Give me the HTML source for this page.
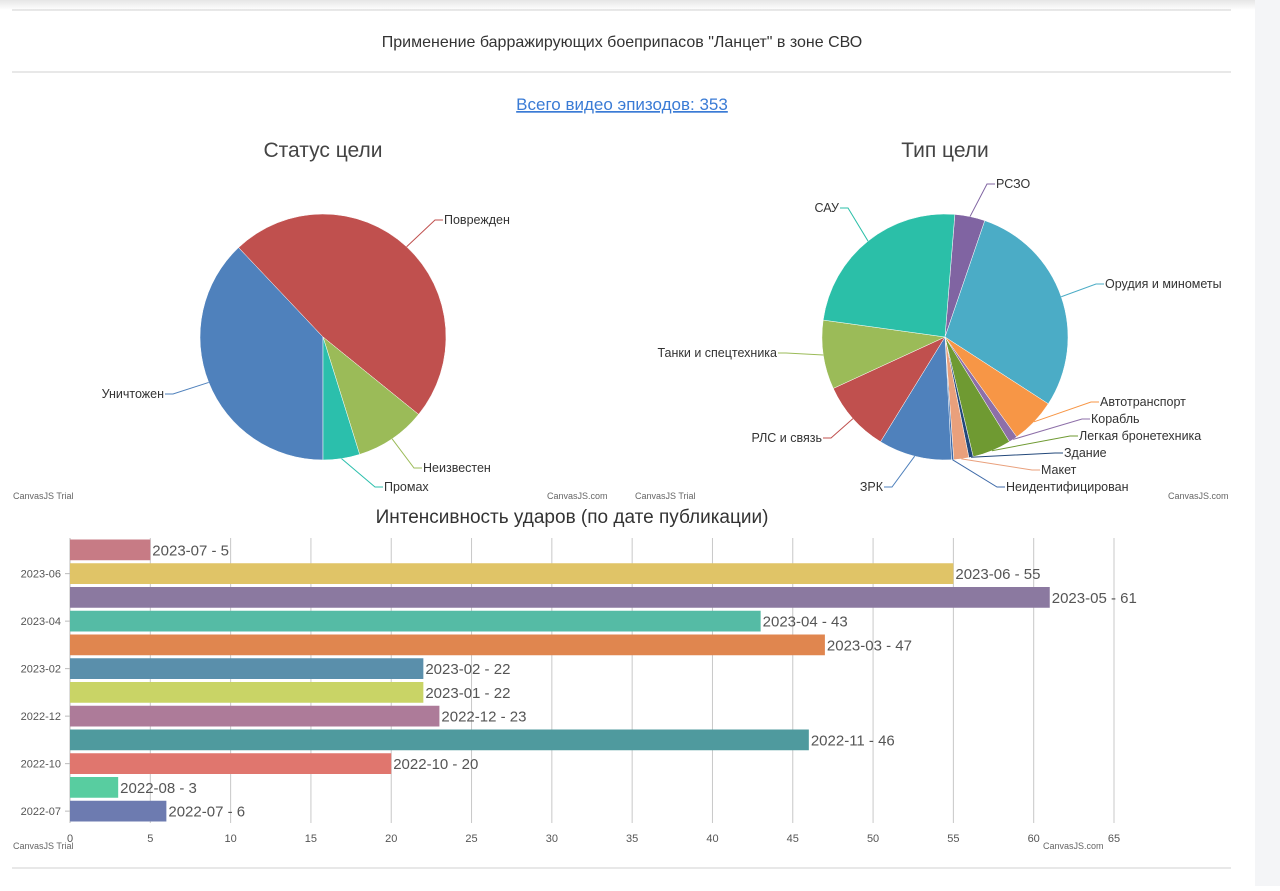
<!DOCTYPE html>
<html><head><meta charset="utf-8"><style>
body{margin:0;width:1280px;height:886px;background:#fff;overflow:hidden;font-family:"Liberation Sans Narrow","Liberation Sans","Noto Sans CJK SC",sans-serif;}
#wrap{position:relative;width:1280px;height:886px;}
</style></head><body>
<div id="wrap">
<svg id="s" width="1280" height="886" xmlns="http://www.w3.org/2000/svg">
<defs><linearGradient id="tg" x1="0" y1="0" x2="0" y2="1"><stop offset="0" stop-color="#e6e6e6"/><stop offset="1" stop-color="#fff"/></linearGradient></defs>
<rect x="0" y="0" width="1280" height="10" fill="url(#tg)"/>
<rect x="1255" y="0" width="25" height="886" fill="#f4f5f7"/>
<line x1="12" y1="10" x2="1231" y2="10" stroke="#d0d0d0"/>
<text x="622" y="47" text-anchor="middle" font-size="16" fill="#333">Применение барражирующих боеприпасов "Ланцет" в зоне СВО</text>
<line x1="12" y1="72" x2="1231" y2="72" stroke="#d0d0d0"/>
<text x="622" y="110" text-anchor="middle" font-size="17" fill="#3a7bd5" text-decoration="underline">Всего видео эпизодов: 353</text>
<text x="323" y="157" text-anchor="middle" font-size="21" fill="#444">Статус цели</text>
<text x="945" y="157" text-anchor="middle" font-size="21" fill="#444">Тип цели</text>
<text x="13" y="499" font-size="9" fill="#666">CanvasJS Trial</text>
<text x="547" y="499" font-size="9" fill="#666">CanvasJS.com</text>
<text x="635" y="499" font-size="9" fill="#666">CanvasJS Trial</text>
<text x="1168" y="499" font-size="9" fill="#666">CanvasJS.com</text>
<text x="572" y="523" text-anchor="middle" font-size="19" fill="#333">Интенсивность ударов (по дате публикации)</text>
<text x="13" y="849" font-size="9" fill="#666">CanvasJS Trial</text>
<text x="1043" y="849" font-size="9" fill="#666">CanvasJS.com</text>
<line x1="12" y1="868" x2="1231" y2="868" stroke="#d0d0d0"/>
<g id="pie1"></g>
<g id="pie2"></g>
<g id="bars"></g>
</svg>
</div>
<script>
const statusLabels=["Уничтожен","Поврежден","Неизвестен","Промах"];
const statusValues=[134,169,33,17];
const statusColors=["#4f81bc","#c0504e","#9bbb58","#2bbfac"];
const typeLabels=["РСЗО","Орудия и минометы","Автотранспорт","Корабль","Легкая бронетехника","Здание","Макет","Неидентифицирован","ЗРК","РЛС и связь","Танки и спецтехника","САУ"];
const typeValues=[14,102,21,4,18,2,7,1,34,33,32,85];
const typeColors=["#8064a2","#4bacc6","#f79646","#8d6fa8","#6f9a32","#23487a","#e9a07c","#3e6aa8","#4f81bc","#c0504e","#9bbb58","#2bbfa8"];
const months=["2023-07","2023-06","2023-05","2023-04","2023-03","2023-02","2023-01","2022-12","2022-11","2022-10","2022-08","2022-07"];
const counts=[5,55,61,43,47,22,22,23,46,20,3,6];
const barColors=["#c77b85","#e0c467","#8b79a0","#55bba5","#e0864f","#5a8fab","#c9d466","#ad7b99","#4f9a9e","#e0766e","#58cda0","#6d7bb0"];
const xTicks=[0,5,10,15,20,25,30,35,40,45,50,55,60,65];
const yTickLabels=["2023-06","2023-04","2023-02","2022-12","2022-10","2022-07"];
const NS="http://www.w3.org/2000/svg";
function mk(tag,attrs,parent){const e=document.createElementNS(NS,tag);for(const k in attrs)e.setAttribute(k,attrs[k]);parent.appendChild(e);return e;}
function pie(g,labels,values,colors,cx,cy,r,start,labelPos,prefix){
  const tot=values.reduce((a,b)=>a+b,0);let a=start*Math.PI/180;
  values.forEach((v,i)=>{const da=v/tot*2*Math.PI;const a2=a+da;
    const x1=cx+r*Math.cos(a),y1=cy+r*Math.sin(a),x2=cx+r*Math.cos(a2),y2=cy+r*Math.sin(a2);
    const p=mk("path",{d:`M${cx},${cy}L${x1},${y1}A${r},${r} 0 ${da>Math.PI?1:0} 1 ${x2},${y2}Z`,fill:colors[i],stroke:"#fff","stroke-width":"0.5"},g);
    
    
    const m=(a+a2)/2;const ex=cx+r*Math.cos(m),ey=cy+r*Math.sin(m);
    const lp=labelPos[i];const right=lp[0]>cx;
    const kx=lp[0]+(right?-8:8);
    const l=mk("polyline",{points:`${ex},${ey} ${kx},${lp[1]} ${lp[0]},${lp[1]}`,fill:"none",stroke:colors[i],"stroke-width":"1"},g);
    
    
    const t=mk("text",{x:right?lp[0]+1:lp[0]-1,y:lp[1]+4,"font-size":"12.5",fill:"#333","text-anchor":right?"start":"end"},g);
    t.textContent=labels[i];
    
    
    a=a2;});
}
const p1pos=[[165,394],[443,220],[422,468],[383,487]];
pie(document.getElementById("pie1"),statusLabels,statusValues,statusColors,323,337,123,90,p1pos,"status");
const p2pos=[[995,184],[1104,284],[1099,402],[1090,419],[1078,436],[1063,453],[1040,470],[1005,487],[884,487],[823,438],[778,353],[840,208]];
pie(document.getElementById("pie2"),typeLabels,typeValues,typeColors,945,337,123,274.6,p2pos,"type");
const bg=document.getElementById("bars");
const x0=70,x65=1114,topY=538,bottomY=823,step=(bottomY-topY)/months.length;
const xs=v=>x0+(x65-x0)*v/65;
xTicks.forEach(t=>{
  if(t>0){const gl=mk("line",{x1:xs(t),y1:topY,x2:xs(t),y2:bottomY,stroke:"#c8c8c8"},bg);
  
  }
  const tx=mk("text",{x:xs(t),y:842,"text-anchor":"middle","font-size":"11",fill:"#555"},bg);tx.textContent=t;
  
  
});
mk("line",{x1:x0,y1:topY,x2:x0,y2:bottomY,stroke:"#bbb"},bg);
months.forEach((m,i)=>{
  const y=topY+i*step+1.5,h=step-3;
  const r=mk("rect",{x:x0,y:y,width:xs(counts[i])-x0,height:h,fill:barColors[i]},bg);
  
  
  const t=mk("text",{x:xs(counts[i])+2,y:y+h/2+5.5,"font-size":"15",fill:"#555","font-family":"Liberation Sans, sans-serif"},bg);
  t.textContent=m+" - "+counts[i];
  
  
  const k=yTickLabels.indexOf(m);
  if(k>=0){const yl=mk("text",{x:x0-9,y:y+h/2+4,"text-anchor":"end","font-size":"11",fill:"#555"},bg);yl.textContent=m;
    
    
    mk("line",{x1:x0-5,y1:y+h/2,x2:x0,y2:y+h/2,stroke:"#bbb"},bg);}
});
</script>
</body></html>
